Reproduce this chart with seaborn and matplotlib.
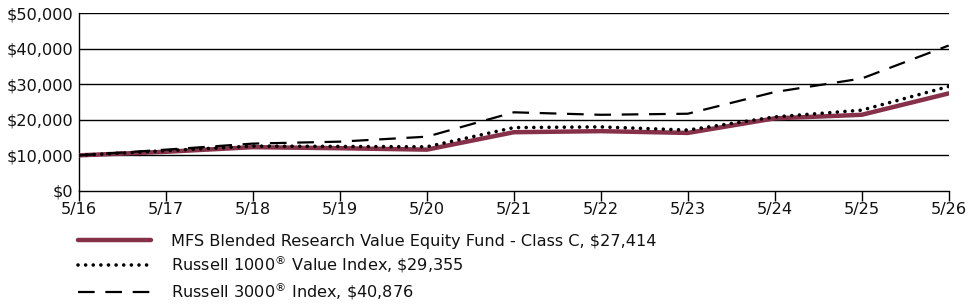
import matplotlib.pyplot as plt
import pandas as pd
import seaborn as sns

# Growth of a $10,000 investment
periods = ["5/16", "5/17", "5/18", "5/19", "5/20", "5/21", "5/22", "5/23", "5/24", "5/25", "5/26"]
fund = [10000, 11000, 12300, 12000, 11600, 16500, 16800, 16300, 20400, 21400, 27414]
r1000_value = [10000, 11300, 12600, 12500, 12400, 17800, 18000, 17100, 20800, 22700, 29355]
r3000 = [10000, 11600, 13300, 13850, 15250, 22100, 21400, 21700, 27800, 31600, 40876]

fund_label = "MFS Blended Research Value Equity Fund - Class C, \\$27,414"
r1000_label = "Russell 1000$^{\u00ae}$ Value Index, \\$29,355"
r3000_label = "Russell 3000$^{\u00ae}$ Index, \\$40,876"

df = pd.DataFrame({"pos": range(len(periods)), "fund": fund,
                   "r1000": r1000_value, "r3000": r3000})

sns.set_style("white")
plt.rcParams["font.family"] = ["DejaVu Sans"]
plt.rcParams["mathtext.fontset"] = "dejavusans"
plt.rcParams["text.color"] = "#111111"
plt.rcParams["xtick.color"] = "#111111"
plt.rcParams["ytick.color"] = "#111111"

fs = 11.6

fig = plt.figure(figsize=(9.75, 3.04), dpi=100)
ax = fig.add_axes([0.081, 0.372, 0.892, 0.585])

# horizontal grid lines
for v in range(10000, 50001, 10000):
    ax.axhline(v, color="black", lw=1, zorder=1)

sns.lineplot(x="pos", y="fund", data=df, ax=ax, color="#863049", lw=3.2,
             label=fund_label, zorder=3)
sns.lineplot(x="pos", y="r1000", data=df, ax=ax, color="black", lw=2.6,
             dashes=False, label=r1000_label, zorder=4)
ax.lines[-1].set_linestyle((0, (0.01, 2.1)))
ax.lines[-1].set_dash_capstyle("round")
sns.lineplot(x="pos", y="r3000", data=df, ax=ax, color="black", lw=1.6,
             label=r3000_label, zorder=4)
ax.lines[-1].set_linestyle((0, (7.5, 4.8)))

ax.set_xlim(0, len(periods) - 1)
ax.set_ylim(0, 50000)
ax.set_xticks(range(len(periods)))
ax.set_xticklabels(periods)
ax.set_yticks(range(0, 50001, 10000))
ax.set_yticklabels([f"${v:,}" for v in range(0, 50001, 10000)])
ax.tick_params(axis="x", direction="out", length=7, width=1, color="black",
               labelsize=fs, pad=1, bottom=True)
ax.tick_params(axis="y", length=0, labelsize=fs, pad=4)
ax.set_xlabel("")
ax.set_ylabel("")

for side in ["top", "right"]:
    ax.spines[side].set_visible(False)
for side in ["left", "bottom"]:
    ax.spines[side].set_color("black")
    ax.spines[side].set_linewidth(1)

handles, labels = ax.get_legend_handles_labels()
ax.get_legend().remove()
fig.legend(handles, labels, loc="upper left", bbox_to_anchor=(0.072, 0.258),
           frameon=False, fontsize=fs, handlelength=4.5, handletextpad=1.25,
           labelspacing=0.32, borderpad=0)

plt.savefig("out.png", dpi=100)
